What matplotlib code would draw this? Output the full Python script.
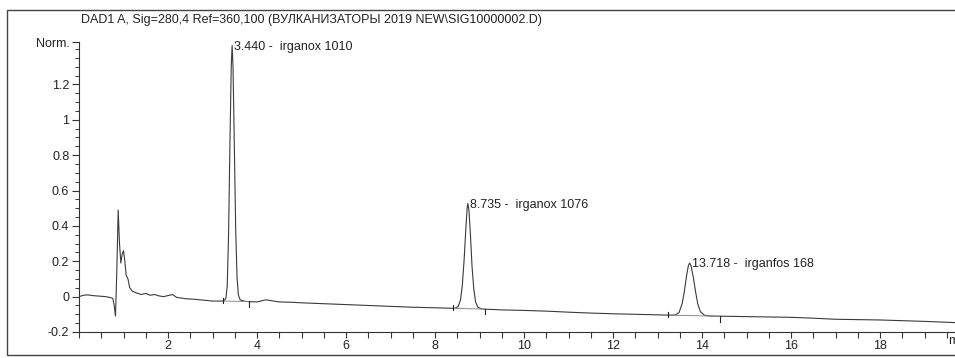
import numpy as np
import matplotlib
matplotlib.use("Agg")
import matplotlib.pyplot as plt
from matplotlib.patches import Rectangle
from matplotlib.ticker import MultipleLocator

# ---- data ----
time = [0.00, 0.10, 0.20, 0.30, 0.40, 0.50, 0.60, 0.70, 0.76, 0.79, 0.82, 0.85, 0.88,
        0.91, 0.94, 0.97, 1.00, 1.03, 1.06, 1.10, 1.14, 1.20, 1.30, 1.40, 1.50, 1.60,
        1.70, 1.80, 1.90, 2.00, 2.10, 2.20, 2.30, 2.40, 2.60, 2.80, 3.00, 3.20,
        3.25, 3.30, 3.33, 3.36, 3.39, 3.42, 3.44, 3.46, 3.49, 3.52, 3.55, 3.58, 3.62, 3.70,
        3.80, 4.00, 4.20, 4.30, 4.50, 4.80, 5.00, 5.50, 6.00, 6.50, 7.00, 7.50, 8.00, 8.40,
        8.45, 8.52, 8.57, 8.61, 8.65, 8.69, 8.72, 8.735, 8.76, 8.79, 8.83, 8.87, 8.91, 8.96, 9.05,
        9.50, 10.0, 10.5, 11.0, 11.5, 12.0, 12.5, 13.0, 13.3,
        13.40, 13.48, 13.55, 13.60, 13.65, 13.69, 13.718, 13.75, 13.80, 13.85, 13.90, 13.96, 14.05, 14.20,
        14.5, 15.0, 15.5, 16.0, 16.5, 17.0, 17.5, 18.0, 18.5, 19.0, 19.5, 19.7]
signal = [0.000, 0.008, 0.010, 0.006, 0.004, 0.002, 0.000, -0.005, -0.010, -0.050, -0.110, 0.150, 0.490,
          0.300, 0.190, 0.240, 0.260, 0.200, 0.120, 0.100, 0.050, 0.030, 0.020, 0.012, 0.018, 0.008,
          0.012, 0.004, 0.000, 0.006, 0.012, -0.005, -0.008, -0.012, -0.015, -0.020, -0.025, -0.025,
          -0.025, -0.010, 0.060, 0.350, 0.850, 1.300, 1.420, 1.300, 0.850, 0.380, 0.110, 0.010, -0.018, -0.025,
          -0.028, -0.030, -0.018, -0.022, -0.030, -0.032, -0.035, -0.040, -0.045, -0.050, -0.055, -0.060, -0.063, -0.066,
          -0.066, -0.055, -0.020, 0.060, 0.200, 0.380, 0.500, 0.527, 0.490, 0.370, 0.170, 0.040, -0.030, -0.060, -0.070,
          -0.075, -0.078, -0.082, -0.088, -0.093, -0.097, -0.100, -0.103, -0.105,
          -0.104, -0.090, -0.040, 0.030, 0.120, 0.175, 0.190, 0.175, 0.110, 0.030, -0.040, -0.085, -0.105, -0.110,
          -0.111, -0.113, -0.115, -0.117, -0.122, -0.128, -0.130, -0.132, -0.136, -0.140, -0.145, -0.147]

peak_rt = [3.440, 8.735, 13.718]
peak_names = ["irganox 1010", "irganox 1076", "irganfos 168"]
peak_height = [1.42, 0.527, 0.19]
base_start = [3.24, 8.41, 13.24]
base_end = [3.81, 9.12, 14.40]

y_ticks = [-0.2, 0, 0.2, 0.4, 0.6, 0.8, 1, 1.2]
y_labels = ["-0.2", "0", "0.2", "0.4", "0.6", "0.8", "1", "1.2"]
x_ticks = [2, 4, 6, 8, 10, 12, 14, 16, 18]

title = "DAD1 A, Sig=280,4 Ref=360,100 (ВУЛКАНИЗАТОРЫ 2019 NEW\\SIG10000002.D)"

# ---- figure ----
plt.rcParams['font.family'] = ['Liberation Sans', 'DejaVu Sans']
FS = 9
W, H = 955, 358
fig = plt.figure(figsize=(W / 100, H / 100), dpi=100)
ax = fig.add_axes([79 / W, 1 - 332 / H, 1 - 79 / W, (332 - 42) / H])

ax.plot(time, signal, color="#3a3a3a", lw=0.8)

t_arr = np.array(time)
s_arr = np.array(signal)
for t0, t1 in zip(base_start, base_end):
    v0 = np.interp(t0, t_arr, s_arr)
    v1 = np.interp(t1, t_arr, s_arr)
    ax.plot([t0, t1], [v0, v1], color="#8a8a8a", lw=0.7)
    ax.plot([t0, t0], [v0 - 0.012, v0 + 0.018], color="#222222", lw=0.8)
    ax.plot([t1, t1], [v1 - 0.03, v1 + 0.003], color="#222222", lw=0.8)

for rt, nm, h in zip(peak_rt, peak_names, peak_height):
    ax.annotate(f"{rt:.3f} -  {nm}", xy=(rt, h), xytext=(1.5, -1), textcoords="offset points",
                ha="left", va="center", fontsize=FS, color="#222222")

ax.set_xlim(0, 19.68)
ax.set_ylim(-0.2, 1.44)

for s in ["top", "right"]:
    ax.spines[s].set_visible(False)
for s in ["left", "bottom"]:
    ax.spines[s].set_color("#333333")
    ax.spines[s].set_linewidth(0.8)

ax.set_yticks(y_ticks + [1.44])
ax.set_yticklabels(y_labels + ["Norm."])
ax.yaxis.set_minor_locator(MultipleLocator(0.05))
ax.set_xticks(x_ticks)
ax.set_xticklabels([str(v) for v in x_ticks])
ax.xaxis.set_minor_locator(MultipleLocator(0.5))
ax.tick_params(axis="y", which="major", length=5, width=0.8, labelsize=FS, colors="#333333", pad=2)
ax.tick_params(axis="y", which="minor", length=3, width=0.7, colors="#333333")
ax.tick_params(axis="x", which="both", length=4, width=0.8, labelsize=FS, colors="#333333", pad=1.5)
for lbl in ax.get_xticklabels() + ax.get_yticklabels():
    lbl.set_color("#222222")

ax.text(19.52, -0.215, "min", ha="left", va="top", fontsize=FS,
        color="#222222", clip_on=False)

fig.text(81 / W, 1 - 20 / H, title, ha="left", va="center", fontsize=FS, color="#222222")

fig.add_artist(Rectangle((7 / W, 1 - 355 / H), 1.1, (355 - 10) / H, transform=fig.transFigure,
                         fill=False, edgecolor="#444444", lw=1.0, clip_on=False))

fig.savefig("out.png", dpi=100)
